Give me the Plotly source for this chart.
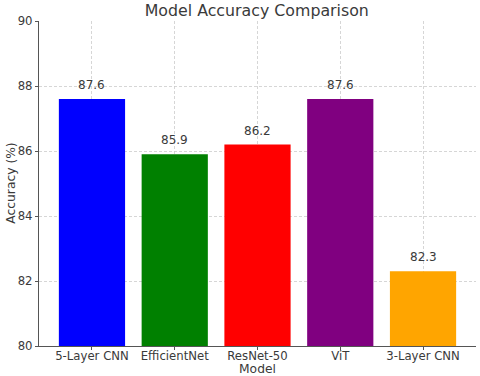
import plotly.graph_objects as go

models = ["5-Layer CNN", "EfficientNet", "ResNet-50", "ViT", "3-Layer CNN"]
accuracy = [87.6, 85.9, 86.2, 87.6, 82.3]
bar_colors = ["blue", "green", "red", "purple", "orange"]
y_ticks = [80, 82, 84, 86, 88, 90]

fig = go.Figure()
fig.add_trace(go.Bar(
    x=list(range(len(models))),
    y=accuracy,
    width=0.8,
    marker_color=bar_colors,
    marker_line_width=0,
    showlegend=False
))

# value labels above each bar
for i, v in enumerate(accuracy):
    fig.add_annotation(x=i, y=v, text=f"{v}", showarrow=False, yshift=14,
                       font=dict(size=12, color="#3a3a3a"))

# axis titles as annotations so they sit where matplotlib put them
fig.add_annotation(x=0.5, y=-0.072, xref="paper", yref="paper", text="Model",
                   showarrow=False, yanchor="middle", borderpad=0,
                   font=dict(size=12.3))
fig.add_annotation(x=-0.066, y=0.5, xref="paper", yref="paper", text="Accuracy (%)",
                   showarrow=False, textangle=-90, xanchor="center", font=dict(size=12.3))

grid = "rgba(200,200,200,0.75)"
fig.update_layout(
    width=480, height=376,
    margin=dict(l=39, r=4, t=21, b=30),
    paper_bgcolor="white",
    plot_bgcolor="white",
    font=dict(family="DejaVu Sans", color="#3a3a3a", size=11.7),
    title=dict(text="Model Accuracy Comparison", x=0.535, xanchor="center",
               y=0.973, yanchor="middle", font=dict(size=15.8, color="#3a3a3a")),
)
fig.update_xaxes(
    range=[-0.64, 4.64], automargin=False,
    tickvals=list(range(len(models))), ticktext=models,
    ticklabelstandoff=-4,
    showline=True, linecolor="#555555", linewidth=1.2,
    ticks="outside", ticklen=3, tickcolor="#555555",
    showgrid=True, gridcolor=grid, griddash="3px,2px", gridwidth=0.8,
    layer="above traces", zeroline=False
)
fig.update_yaxes(
    range=[80, 90], tickvals=y_ticks, automargin=False,
    showline=True, linecolor="#555555", linewidth=1.2,
    ticks="outside", ticklen=3, tickcolor="#555555",
    showgrid=True, gridcolor=grid, griddash="3px,2px", gridwidth=0.8,
    layer="above traces", zeroline=False
)

fig.write_html("out.html", config={"displayModeBar": False},
               post_script="document.body.style.margin='0';")
